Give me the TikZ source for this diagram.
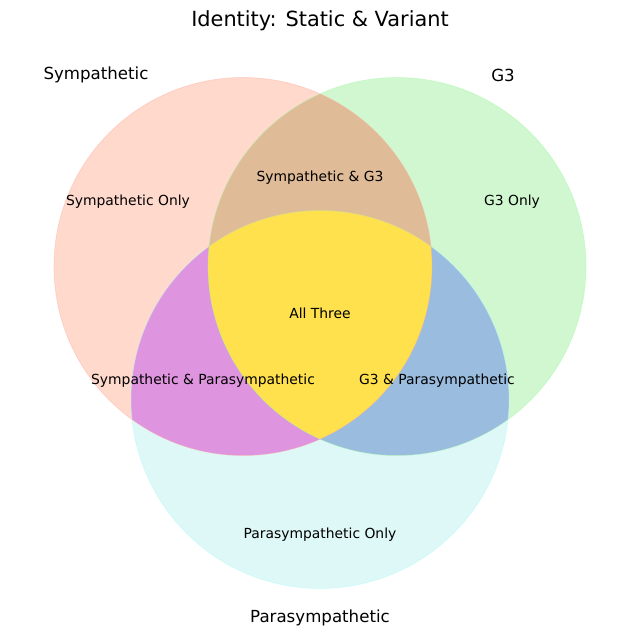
\documentclass[tikz,border=0pt]{standalone}
\usepackage{fontspec}
\setmainfont{DejaVu Sans}
\usepackage{tikz}
\definecolor{symonly}{RGB}{255,217,204}
\definecolor{gthonly}{RGB}{208,247,208}
\definecolor{paronly}{RGB}{222,248,247}
\definecolor{symgth}{RGB}{224,187,151}
\definecolor{sympar}{RGB}{222,148,222}
\definecolor{gthpar}{RGB}{153,188,223}
\definecolor{allthree}{RGB}{255,224,77}
\definecolor{ink}{RGB}{0,0,0}

\begin{document}
\begin{tikzpicture}[x=0.03cm,y=-0.03cm,
  rl/.style={font=\fontsize{11.85}{14}\selectfont,text=ink,inner sep=0pt},
  sl/.style={font=\fontsize{14.2}{17}\selectfont,text=ink,inner sep=0pt},
  tl/.style={font=\fontsize{17.8}{21}\selectfont,text=ink,inner sep=0pt},
  rim/.style={line width=0.6pt,draw opacity=0.45}]
  \useasboundingbox (0,0) rectangle (640,643);
  \def\circS{(243,266.5) circle[radius=189]}
  \def\circG{(397,266.5) circle[radius=189]}
  \def\circP{(320,399.5) circle[radius=189]}
  % single sets
  \fill[symonly] \circS;
  \fill[gthonly] \circG;
  \fill[paronly] \circP;
  % pairs
  \begin{scope} \clip \circS; \fill[symgth] \circG; \end{scope}
  \begin{scope} \clip \circS; \fill[sympar] \circP; \end{scope}
  \begin{scope} \clip \circG; \fill[gthpar] \circP; \end{scope}
  % all three
  \begin{scope} \clip \circS; \clip \circG; \fill[allthree] \circP; \end{scope}
  % rims
  \draw[rim,symonly!80!red] \circS;
  \draw[rim,gthonly!80!green] \circG;
  \draw[rim,paronly!80!cyan] \circP;
  \begin{scope} \clip \circS; \clip \circG; \draw[rim,allthree!80!orange] \circP; \end{scope}

  \node[tl] (title) at (320,21) {Identity: Static \& Variant};
  \node[sl] (sym) at (96,75) {Sympathetic};
  \node[sl] (gth) at (503,75) {G3};
  \node[sl] (par) at (320,618) {Parasympathetic};
  \node[rl] (symO) at (128,202) {Sympathetic Only};
  \node[rl] (gthO) at (512,202) {G3 Only};
  \node[rl] (symG) at (320,178) {Sympathetic \& G3};
  \node[rl] (all) at (320,313) {All Three};
  \node[rl] (symP) at (203,381) {Sympathetic \& Parasympathetic};
  \node[rl] (gthP) at (437,381) {G3 \& Parasympathetic};
  \node[rl] (parO) at (320,535) {Parasympathetic Only};
\end{tikzpicture}
\end{document}
